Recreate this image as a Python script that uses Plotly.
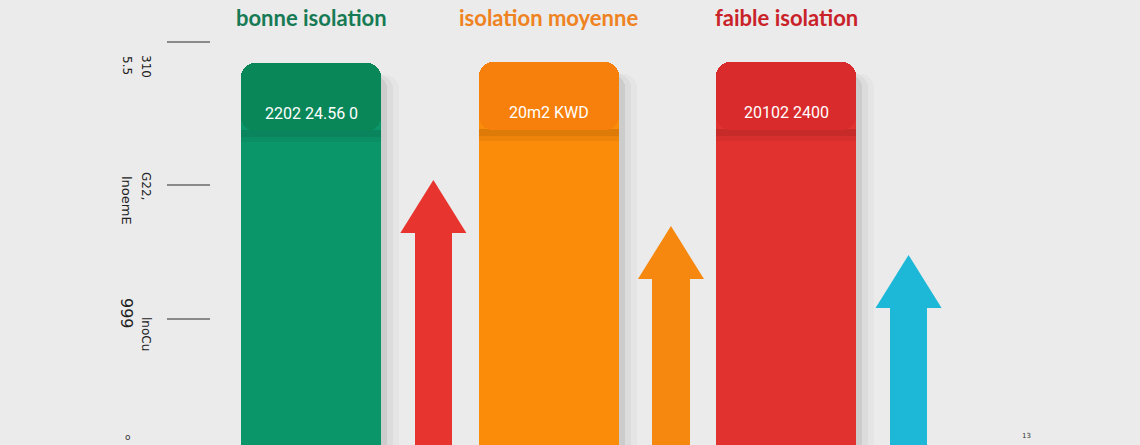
import plotly.graph_objects as go

# ---- data ----
categories = ["bonne isolation", "isolation moyenne", "faible isolation"]
bar_values = [382, 383, 383]
box_labels = ["2202 24.56 0", "20m2 KWD", "20102 2400"]
arrow_values = [265, 219, 190]
tick_values = [403, 260, 126]
tick_labels_a = ["5.5", "lnoemE", "999"]
tick_labels_b = ["310", "G22,", "lnoCu"]

# ---- style ----
bar_colors = ["#0b966a", "#fb8c0a", "#e23230"]
box_colors = ["#0a8759", "#f77f0b", "#d92a2c"]
title_colors = ["#167a55", "#ef8221", "#c92329"]
arrow_colors = ["#e8342f", "#f7880f", "#1db8d8"]
BG = "#ebebeb"

xpos = list(range(len(categories)))
arrow_offset = 0.515
bar_w = 0.59
box_h = 68
head_len = 53
head_hw = 0.139
shaft_w = 0.156

fig = go.Figure()

# soft shadows right of bars
for dx, op in [(0.075, 0.025), (0.05, 0.04), (0.025, 0.07)]:
    fig.add_trace(go.Bar(
        x=[x + dx for x in xpos], y=[v - 12 for v in bar_values], width=bar_w,
        marker=dict(color=f"rgba(0,0,0,{op})", cornerradius=14, line=dict(width=0)),
        hoverinfo="skip", showlegend=False))

# main bars
fig.add_trace(go.Bar(
    x=xpos, y=bar_values, width=bar_w,
    marker=dict(color=bar_colors, cornerradius=14, line=dict(width=0)),
    hoverinfo="skip", showlegend=False))

# shadow under the label boxes
for h, op in [(12, 0.05), (7, 0.07)]:
    fig.add_trace(go.Bar(
        x=xpos, y=[h] * 3, base=[v - box_h - h + 1 for v in bar_values], width=bar_w,
        marker=dict(color=f"rgba(0,0,0,{op})", line=dict(width=0)),
        hoverinfo="skip", showlegend=False))

# label boxes
fig.add_trace(go.Bar(
    x=xpos, y=[box_h] * 3, base=[v - box_h for v in bar_values], width=bar_w,
    marker=dict(color=box_colors, cornerradius=14, line=dict(width=0)),
    hoverinfo="skip", showlegend=False))

for x, v, lab in zip(xpos, bar_values, box_labels):
    fig.add_annotation(x=x, y=v - 50, text=lab, showarrow=False,
                       font=dict(family="Roboto", size=16, color="white"),
                       xanchor="center", yanchor="middle")

# arrows: shafts
arrow_x = [x + arrow_offset for x in xpos]
fig.add_trace(go.Bar(
    x=arrow_x, y=[v - head_len + 1 for v in arrow_values], width=shaft_w,
    marker=dict(color=arrow_colors, line=dict(width=0)),
    hoverinfo="skip", showlegend=False))

# arrows: heads
for ax, av, col in zip(arrow_x, arrow_values, arrow_colors):
    fig.add_trace(go.Scatter(
        x=[ax - head_hw, ax, ax + head_hw, ax - head_hw],
        y=[av - head_len, av, av - head_len, av - head_len],
        mode="lines", fill="toself", fillcolor=col,
        line=dict(width=0, color=col), hoverinfo="skip", showlegend=False))

# category titles
for x, name, col in zip(xpos, categories, title_colors):
    fig.add_annotation(x=x, y=428, text=f"<b>{name}</b>", showarrow=False,
                       font=dict(family="Lato", size=22, color=col),
                       xanchor="center", yanchor="middle")

# rotated tick labels
px_to_x = lambda p: (p - 311) / 237.6
for tv, la, lb, dya, dyb, sa in zip(tick_values, tick_labels_a, tick_labels_b,
                                    [-23, -15, 6], [-24, -1, -15], [12, 13, 16]):
    fig.add_annotation(x=px_to_x(127), y=tv + dya, text=la, textangle=90,
                       showarrow=False, font=dict(family="DejaVu Sans", size=sa, color="#222"))
    fig.add_annotation(x=px_to_x(146), y=tv + dyb, text=lb, textangle=90,
                       showarrow=False, font=dict(family="DejaVu Sans", size=12, color="#222"))

fig.add_annotation(x=px_to_x(1026), y=9, text="13", showarrow=False,
                   font=dict(family="DejaVu Sans", size=7, color="#333"))
fig.add_annotation(x=px_to_x(128), y=8, text="o", showarrow=False,
                   font=dict(family="DejaVu Sans", size=9, color="#333"))

fig.update_layout(
    width=1140, height=445,
    margin=dict(l=0, r=0, t=0, b=0),
    paper_bgcolor=BG, plot_bgcolor=BG,
    barmode="overlay", bargap=0,
    xaxis=dict(range=[px_to_x(0), px_to_x(1140)], visible=False, fixedrange=True),
    yaxis=dict(range=[0, 445], anchor="free", position=210 / 1140,
               tickvals=tick_values, ticks="outside", ticklen=43, tickwidth=1.5,
               tickcolor="#8a8a8a", showticklabels=False, showgrid=False,
               showline=False, zeroline=False, fixedrange=True),
)

fig.write_html("out.html", config={"displayModeBar": False},
               post_script="document.body.style.margin='0';document.body.style.overflow='hidden';document.body.style.background='#ebebeb';")
